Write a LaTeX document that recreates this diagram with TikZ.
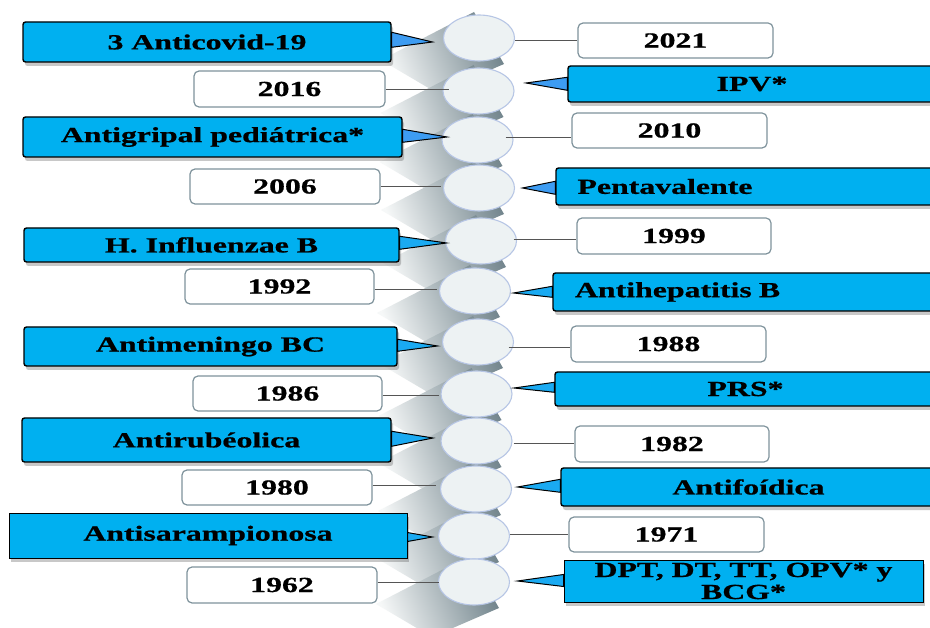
\documentclass[tikz,border=0pt]{standalone}
\usepackage{fontspec}
\setmainfont{Liberation Serif}[FakeStretch=1.48,FakeBold=0.8]
\usetikzlibrary{shapes.geometric,shadows,calc}
\definecolor{boxblue}{HTML}{00B0F0}
\definecolor{tailblue}{HTML}{3D9CF2}
\definecolor{tailcyan}{HTML}{1AAAF2}
\definecolor{wedge}{HTML}{7F939C}
\definecolor{ellfill}{HTML}{EDF2F3}
\definecolor{elldraw}{HTML}{B7C6E5}
\definecolor{bandlight}{HTML}{F6F8F8}
\definecolor{banddark}{HTML}{6F828A}
\definecolor{conncol}{HTML}{555555}
\newcommand\boxfont{\fontsize{21.5}{22}\selectfont\bfseries}
\begin{document}
\begin{tikzpicture}[x=1pt,y=-1pt,
  bbox/.style={draw=black, line width=1.4pt, fill=boxblue, rounded corners=2.5pt,
    inner sep=0pt, font=\boxfont,
    drop shadow={shadow xshift=2pt, shadow yshift=-4pt, opacity=0.3, fill=black!70}},
  sbox/.style={bbox, sharp corners, line width=1pt},
  wbox/.style={draw=wedge, line width=1.2pt, fill=white, rounded corners=5pt,
    inner sep=0pt, font=\boxfont},
  ell/.style={ellipse, draw=elldraw, line width=1.1pt, fill=ellfill,
    minimum width=71pt, minimum height=46pt, inner sep=0pt},
  band/.style={top color=bandlight, bottom color=banddark, shading angle=112},
  conn/.style={draw=conncol, line width=0.9pt},
  tail/.style={draw=black, line width=1pt, line join=miter, fill=tailblue},
  tailc/.style={tail, fill=tailcyan}]
\useasboundingbox (0,0) rectangle (930,628);
\fill[white] (0,0) rectangle (930,628);

% folded shadow ribbon behind the discs
\foreach \cx/\cy in {479/38,478.5/91,477.5/140,479/188,481/241,475/291,478/342,476.5/394,476.5/441,476/489,474/536,474/582}{
  \shade[band] ({\cx-98},{\cy+22}) -- ({\cx-5},{\cy-26}) -- ({\cx+25},{\cy+26}) -- ({\cx-42},{\cy+55}) -- cycle;
}

% discs
\foreach \i/\cx/\cy in {1/479/38,2/478.5/91,3/477.5/140,4/479/188,5/481/241,6/475/291,7/478/342,8/476.5/394,9/476.5/441,10/476/489,11/474/536,12/474/582}{
  \node[ell] (e\i) at (\cx,\cy) {};
}

% left boxes
\node[bbox, minimum width=368pt, minimum height=40pt] (L1) at (207,42) {3 Anticovid-19};
\node[wbox, minimum width=191pt, minimum height=36pt] (L2) at (289.5,89) {2016};
\node[bbox, minimum width=379pt, minimum height=40pt] (L3) at (212.5,137) {Antigripal pediátrica*};
\node[wbox, minimum width=190pt, minimum height=35pt] (L4) at (285,186.5) {2006};
\node[bbox, minimum width=375pt, minimum height=34pt] (L5) at (211.5,245) {H. Influenzae B};
\node[wbox, minimum width=189pt, minimum height=35pt] (L6) at (279.5,286.5) {1992};
\node[bbox, minimum width=373pt, minimum height=39pt] (L7) at (210.5,346.5) {Antimeningo BC};
\node[wbox, minimum width=189pt, minimum height=35pt] (L8) at (287.5,393.5) {1986};
\node[bbox, minimum width=369pt, minimum height=44pt] (L9) at (206.5,440) {Antirubéolica};
\node[wbox, minimum width=190pt, minimum height=35pt] (L10) at (277,487.5) {1980};
\node[sbox, minimum width=398pt, minimum height=45pt] (L11) at (208,535.5) {Antisarampionosa};
\node[wbox, minimum width=190pt, minimum height=36pt] (L12) at (282,585) {1962};

% right boxes
\node[wbox, minimum width=195pt, minimum height=35pt] (R1) at (675.5,40.5) {2021};
\node[bbox, minimum width=368pt, minimum height=36pt] (R2) at (752,84) {IPV*};
\node[wbox, minimum width=195pt, minimum height=35pt] (R3) at (669.5,130.5) {2010};
\node[bbox, minimum width=380pt, minimum height=37pt, text width=337pt, inner xsep=21.5pt, align=left] (R4) at (746,186.5) {Pentavalente};
\node[wbox, minimum width=194pt, minimum height=36pt] (R5) at (674,236) {1999};
\node[bbox, minimum width=383pt, minimum height=38pt, text width=339pt, inner xsep=22pt, align=left] (R6) at (744.5,292) {Antihepatitis B};
\node[wbox, minimum width=195pt, minimum height=36pt] (R7) at (668.5,344) {1988};
\node[bbox, minimum width=381pt, minimum height=34pt] (R8) at (745.5,389) {PRS*};
\node[wbox, minimum width=194pt, minimum height=36pt] (R9) at (672,444) {1982};
\node[bbox, minimum width=375pt, minimum height=38pt] (R10) at (748.5,487) {Antifoídica};
\node[wbox, minimum width=195pt, minimum height=35pt] (R11) at (666.5,534.5) {1971};
\node[sbox, minimum width=359pt, minimum height=42pt, align=center] (R12) at (743.5,581) {DPT, DT, TT, OPV* y\\BCG*};

% connectors (year boxes)
\draw[conn] (L2.east) -- ($(e2.west |- L2.east)+(7,0)$);
\draw[conn] (L4.east) -- ($(e4.west |- L4.east)+(-1.5,0)$);
\draw[conn] ($(L6.east)+(0,2.5)$) -- ($(e6.west |- L6.east)+(-1.5,2.5)$);
\draw[conn] ($(L8.east)+(0,1.5)$) -- ($(e8.west |- L8.east)+(-1,1.5)$);
\draw[conn] ($(L10.east)+(0,-2.5)$) -- ($(e10.west |- L10.east)+(-3.5,-2.5)$);
\draw[conn] ($(L12.east)+(0,-3)$) -- ($(e12.west |- L12.east)+(1.5,-3)$);
\draw[conn] (e1.east |- R1.west) -- (R1.west);
\draw[conn] ($(e3.east |- R3.west)+(-8,6.5)$) -- ($(R3.west)+(0,6.5)$);
\draw[conn] ($(e5.east |- R5.west)+(-3.5,3)$) -- ($(R5.west)+(0,3)$);
\draw[conn] ($(e7.east |- R7.west)+(-5.5,3)$) -- ($(R7.west)+(0,3)$);
\draw[conn] ($(e9.east |- R9.west)+(1,-1)$) -- ($(R9.west)+(0,-1)$);
\draw[conn] (e11.east |- R11.west) -- (R11.west);

% callout tails
\draw[tail] ($(L1.north east)+(0,11)$) -- ($(e1.west)+(-10.5,4)$) -- ($(L1.north east)+(0,26)$) -- cycle;
\draw[tail] ($(L3.north east)+(0,13)$) -- ($(e3.west)+(5.5,-3)$) -- ($(L3.north east)+(0,26)$) -- cycle;
\draw[tailc] ($(L5.north east)+(0,9)$) -- ($(e5.west)+(1.5,2)$) -- ($(L5.north east)+(0,22)$) -- cycle;
\draw[tailc] ($(L7.north east)+(0,13)$) -- ($(e7.west)+(-4.5,4)$) -- ($(L7.north east)+(0,25)$) -- cycle;
\draw[tailc] ($(L9.north east)+(0,14)$) -- ($(e9.west)+(-7.5,-3)$) -- ($(L9.north east)+(0,29)$) -- cycle;
\draw[tailc] ($(L11.north east)+(0,20)$) -- ($(e11.west)+(-5.5,1)$) -- ($(L11.north east)+(0,29)$) -- cycle;
\draw[tail] ($(R2.north west)+(0,12)$) -- ($(e2.east)+(11.5,-8)$) -- ($(R2.north west)+(0,25)$) -- cycle;
\draw[tail] ($(R4.north west)+(0,14)$) -- ($(e4.east)+(7.5,0)$) -- ($(R4.north west)+(0,27)$) -- cycle;
\draw[tailc] ($(R6.north west)+(0,14)$) -- ($(e6.east)+(2.5,2)$) -- ($(R6.north west)+(0,25)$) -- cycle;
\draw[tailc] ($(R8.north west)+(0,11)$) -- ($(e8.east)+(1.5,-6)$) -- ($(R8.north west)+(0,21)$) -- cycle;
\draw[tailc] ($(R10.north west)+(0,12)$) -- ($(e10.east)+(5.5,-2)$) -- ($(R10.north west)+(0,25)$) -- cycle;
\draw[tailc] ($(R12.north west)+(0,15)$) -- ($(e12.east)+(7.5,-1)$) -- ($(R12.north west)+(0,27)$) -- cycle;
\end{tikzpicture}
\end{document}
